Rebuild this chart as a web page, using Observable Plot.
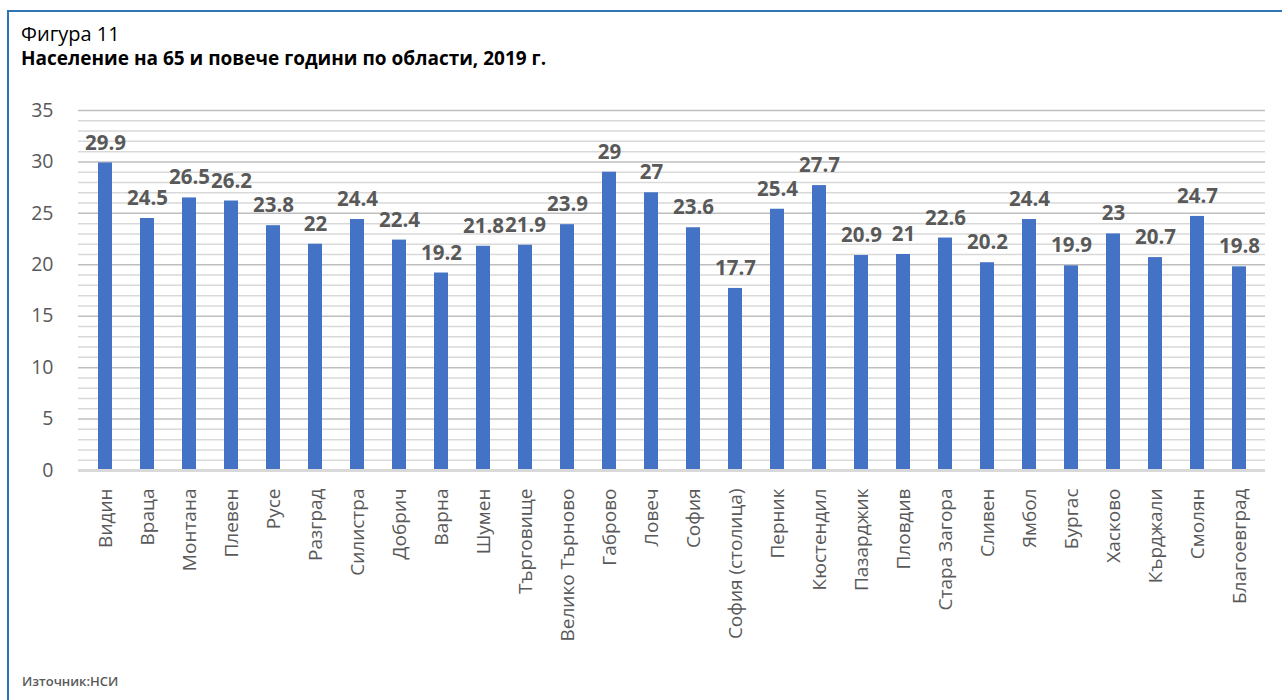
<!DOCTYPE html>
<html>
<head>
<meta charset="utf-8">
<script src="https://cdn.jsdelivr.net/npm/d3@7"></script>
<script src="https://cdn.jsdelivr.net/npm/@observablehq/plot@0.6"></script>
<style>
  html, body { margin: 0; padding: 0; background: #fff; }
  body { width: 1282px; height: 700px; position: relative; overflow: hidden; font-family: "Open Sans", "Noto Sans", sans-serif; }
  #frame { position: absolute; left: 7px; top: 10px; width: 1280px; height: 700px; border-left: 2px solid #2e75b6; border-top: 2px solid #2e75b6; box-sizing: border-box; }
  #fig { position: absolute; left: 21px; top: 20px; font-size: 20px; line-height: normal; color: #000; }
  #title { position: absolute; left: 21px; top: 45px; font-size: 19px; line-height: normal; font-weight: bold; color: #000; }
  #chart { position: absolute; left: 0; top: 90px; }
  #source { position: absolute; left: 22px; top: 672px; font-size: 13px; line-height: normal; color: #595959; font-weight: 600; }
</style>
</head>
<body>
<div id="frame"></div>
<div id="fig">Фигура 11</div>
<div id="title">Население на 65 и повече години по области, 2019 г.</div>
<div id="chart"></div>
<div id="source">Източник:НСИ</div>
<script>
const regions = ["Видин","Враца","Монтана","Плевен","Русе","Разград","Силистра","Добрич","Варна","Шумен","Търговище","Велико Търново","Габрово","Ловеч","София","София (столица)","Перник","Кюстендил","Пазарджик","Пловдив","Стара Загора","Сливен","Ямбол","Бургас","Хасково","Кърджали","Смолян","Благоевград"];
const values = [29.9,24.5,26.5,26.2,23.8,22,24.4,22.4,19.2,21.8,21.9,23.9,29,27,23.6,17.7,25.4,27.7,20.9,21,22.6,20.2,24.4,19.9,23,20.7,24.7,19.8];
const yTicks = [0,5,10,15,20,25,30,35];
const minorTicks = d3.range(1, 35).filter(v => v % 5 !== 0);

const data = regions.map((r, i) => ({region: r, value: values[i]}));

const chart = Plot.plot({
  width: 1282,
  height: 580,
  marginTop: 20,
  marginBottom: 200,
  marginLeft: 78,
  marginRight: 17,
  style: {fontFamily: "'Open Sans', 'Noto Sans', sans-serif", background: "transparent"},
  x: {domain: regions, paddingInner: 0.67, paddingOuter: 0.335, label: null},
  y: {domain: [0, 35], label: null},
  marks: [
    Plot.ruleY(minorTicks, {stroke: "#d9d9d9", strokeWidth: 1.5}),
    Plot.ruleY(yTicks.filter(v => v > 0), {stroke: "#bfbfbf", strokeWidth: 1.5}),
    Plot.barY(data, {x: "region", y: "value", fill: "#4472c4"}),
    Plot.ruleY([0], {stroke: "#d9d9d9", strokeWidth: 3}),
    Plot.text(data, {x: "region", y: "value", text: d => String(d.value), dy: -20, fill: "#595959", fontWeight: "bold", fontSize: 20.5, letterSpacing: "-0.3px"}),
    Plot.axisY({ticks: yTicks, tickSize: 0, tickPadding: 25, fontSize: 19.5, color: "#595959", label: null}),
    Plot.axisX({tickSize: 0, tickRotate: -90, tickPadding: 18, fontSize: 19, color: "#595959", label: null})
  ]
});
document.getElementById("chart").appendChild(chart);
</script>
</body>
</html>
